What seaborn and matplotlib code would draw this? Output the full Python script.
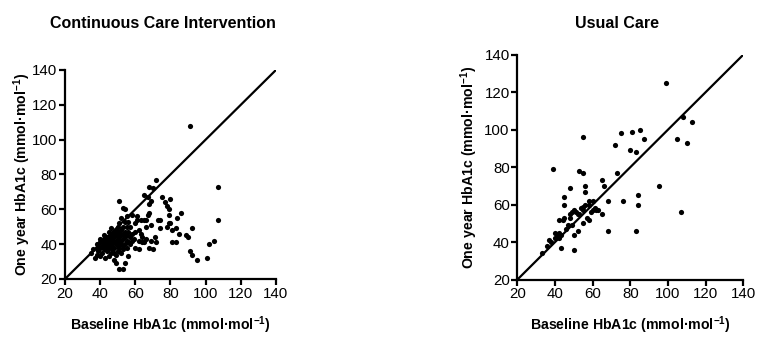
import numpy as np
import pandas as pd
import matplotlib
matplotlib.use("Agg")
import matplotlib.pyplot as plt
import seaborn as sns

# ---------------- data ----------------
cci_baseline = [
    36, 37, 38, 38, 39, 39, 40, 40, 40, 41, 41, 41, 42, 42, 42, 43, 43, 43, 43, 44,
    44, 44, 44, 45, 45, 45, 45, 45, 46, 46, 46, 46, 46, 47, 47, 47, 47, 48, 48, 48,
    48, 48, 48, 49, 49, 49, 49, 49, 49, 50, 50, 50, 50, 50, 51, 51, 51, 51, 51, 51,
    52, 52, 52, 52, 52, 52, 53, 53, 53, 53, 53, 53, 53, 54, 54, 54, 54, 54, 54, 55,
    55, 55, 55, 55, 56, 56, 56, 56, 57, 57, 57, 58, 58, 58, 51, 44, 42, 40, 38, 35,
    59, 60, 60, 60, 61, 61, 62, 62, 62, 63, 63, 64, 64, 65, 65, 66, 66, 67, 67, 68,
    68, 68, 68, 69, 69, 69, 70, 70, 71, 72, 72, 73, 74, 75, 77, 78, 79, 79, 79, 78,
    80, 81, 81, 83, 83, 84, 85, 86, 89, 90, 91, 92, 92, 91, 95, 101, 102, 105, 107, 107,
    74, 80, 66, 65,
]
cci_oneyear = [
    37, 32, 34, 38, 36, 40, 33, 38, 41, 39, 42, 35, 37, 40, 43, 32, 38, 41, 44, 36,
    39, 42, 40, 33, 38, 41, 44, 47, 35, 39, 42, 45, 49, 37, 40, 43, 46, 31, 35, 38,
    41, 44, 47, 29, 34, 40, 42, 45, 48, 36, 39, 43, 46, 50, 26, 38, 41, 44, 47, 52,
    35, 40, 42, 45, 48, 55, 26, 37, 39, 43, 46, 50, 61, 29, 40, 44, 47, 53, 60, 38,
    42, 45, 50, 56, 33, 41, 47, 53, 40, 44, 50, 42, 46, 57, 65, 44, 45, 43, 40, 35,
    43, 38, 47, 52, 54, 56, 42, 48, 37, 46, 54, 41, 44, 41, 68, 43, 50, 67, 57, 58,
    63, 73, 38, 65, 51, 42, 37, 72, 44, 77, 41, 54, 49, 67, 64, 62, 60, 57, 52, 50,
    66, 48, 41, 41, 49, 55, 46, 58, 45, 44, 36, 34, 49, 108, 31, 32, 40, 42, 73, 54,
    54, 52, 54, 54,
]

uc_baseline = [
    33, 36, 37, 38, 39, 40, 40, 41, 41, 42, 42, 42, 43, 43, 44, 45, 45, 45, 46, 47,
    48, 48, 49, 49, 50, 50, 50, 51, 52, 52, 53, 54, 55, 55, 55, 55, 56, 56, 56, 57,
    58, 58, 58, 59, 60, 60, 61, 62, 63, 65, 65, 66, 68, 68, 72, 73, 75, 76, 80, 81,
    83, 83, 84, 84, 85, 87, 95, 99, 105, 107, 108, 110, 113, 53, 55, 48,
]
uc_oneyear = [
    34, 38, 41, 40, 79, 42, 45, 43, 44, 42, 45, 52, 37, 44, 52, 53, 60, 64, 47, 49,
    53, 69, 56, 49, 57, 44, 36, 56, 46, 55, 78, 58, 77, 96, 50, 57, 70, 67, 60, 53,
    62, 60, 52, 56, 62, 57, 58, 57, 57, 73, 55, 70, 62, 46, 92, 77, 98, 62, 89, 99,
    88, 46, 65, 60, 100, 95, 70, 125, 95, 56, 107, 93, 104, 55, 59, 55,
]

identity_line = [20, 140]
axis_ticks = [20, 40, 60, 80, 100, 120, 140]
panel_titles = ["Continuous Care Intervention", "Usual Care"]
x_label = r"Baseline HbA1c (mmol·mol$^{\mathbf{-1}}$)"
y_label = r"One year HbA1c (mmol·mol$^{\mathbf{-1}}$)"

# ---------------- style ----------------
sns.set_theme(style="ticks")
plt.rcParams["font.family"] = ["Liberation Sans", "DejaVu Sans"]
plt.rcParams["mathtext.fontset"] = "custom"
plt.rcParams["mathtext.rm"] = "Liberation Sans"
plt.rcParams["mathtext.bf"] = "Liberation Sans:bold"
plt.rcParams["axes.linewidth"] = 1.6
plt.rcParams["xtick.major.width"] = 1.6
plt.rcParams["ytick.major.width"] = 1.6
plt.rcParams["xtick.major.size"] = 4
plt.rcParams["ytick.major.size"] = 4

fig = plt.figure(figsize=(7.68, 3.38), dpi=100)
ax1 = fig.add_axes([0.0846, 0.1746, 0.2747, 0.6183])
ax2 = fig.add_axes([0.6736, 0.1726, 0.2943, 0.6657])

df1 = pd.DataFrame({"baseline": cci_baseline, "oneyear": cci_oneyear})
df2 = pd.DataFrame({"baseline": uc_baseline, "oneyear": uc_oneyear})

label_coords = {
    "ax1": {"x": (0.5, -0.22), "y": (-0.205, 0.5)},
    "ax2": {"x": (0.5, -0.203), "y": (-0.212, 0.5)},
}

for name, ax, df in [("ax1", ax1, df1), ("ax2", ax2, df2)]:
    sns.lineplot(x=identity_line, y=identity_line, ax=ax, color="black", linewidth=1.6)
    sns.scatterplot(data=df, x="baseline", y="oneyear", ax=ax, color="black",
                    s=14, linewidth=0, zorder=3)
    ax.set_xlim(20, 140)
    ax.set_ylim(20, 140)
    ax.set_xticks(axis_ticks)
    ax.set_yticks(axis_ticks)
    ax.tick_params(axis="both", labelsize=10.8, colors="black", pad=1.5)
    ax.set_xlabel(x_label, fontsize=10.2, fontweight="bold", color="black", va="center")
    ax.set_ylabel(y_label, fontsize=10.2, fontweight="bold", color="black", va="center")
    ax.xaxis.set_label_coords(*label_coords[name]["x"])
    ax.yaxis.set_label_coords(*label_coords[name]["y"])
    for sp in ["top", "right"]:
        ax.spines[sp].set_visible(False)
    for sp in ["left", "bottom"]:
        ax.spines[sp].set_color("black")
    ax.spines["left"].set_bounds(20, 140)
    ax.spines["bottom"].set_bounds(20, 140)

fig.text(163 / 768, 1 - 23 / 338, panel_titles[0], ha="center", va="center",
         fontsize=11.5, fontweight="bold", color="black")
fig.text(617 / 768, 1 - 24 / 338, panel_titles[1], ha="center", va="center",
         fontsize=11.5, fontweight="bold", color="black")

fig.savefig("out.png", dpi=100, facecolor="white")
